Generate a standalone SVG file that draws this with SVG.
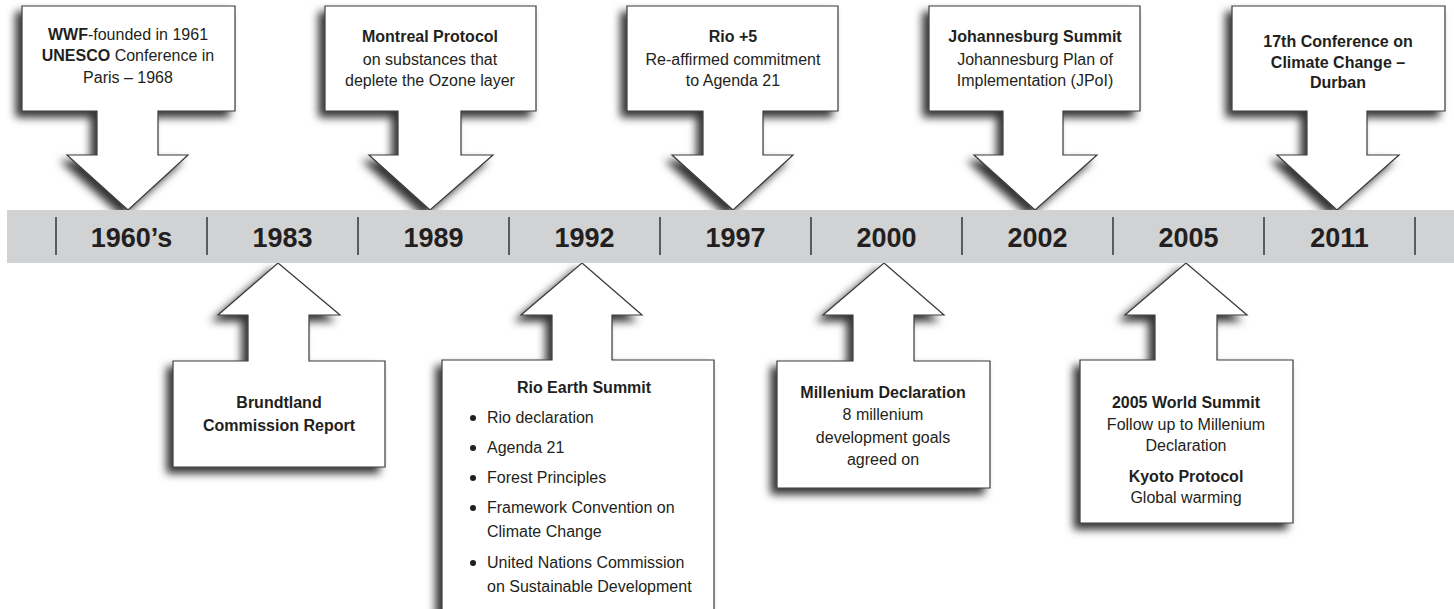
<svg xmlns="http://www.w3.org/2000/svg" width="1454" height="609" viewBox="0 0 1454 609">
<defs>
<filter id="sh" x="-20%" y="-20%" width="140%" height="140%">
<feDropShadow dx="-6" dy="6" stdDeviation="4.5" flood-color="#000" flood-opacity="0.8"/>
</filter>
</defs>
<style>
.c{fill:#fff;stroke:#3a3a3a;stroke-width:1.2;filter:url(#sh)}
text{font-family:"Liberation Sans",Arial,sans-serif;fill:#231f20;font-size:16px}
.m{text-anchor:middle}
.b{font-weight:bold}
.yr{font-weight:bold;font-size:27px;text-anchor:middle}
.dv{stroke:#333;stroke-width:1.5}
</style>
<rect width="1454" height="609" fill="#fff"/>

<g id="n1960">
<path class="c" d="M22,6H235V111H158V155H188L128,210L67,155H97V111H22Z"/>
<text class="m" x="128" y="40"><tspan class="b">WWF</tspan>-founded in 1961</text>
<text class="m" x="128" y="61"><tspan class="b">UNESCO</tspan> Conference in</text>
<text class="m" x="128" y="83">Paris – 1968</text>
</g>

<g id="n1989">
<path class="c" d="M325,6H536V111H461V155H493L430,210L369,155H398V111H325Z"/>
<text class="m b" x="430" y="42">Montreal Protocol</text>
<text class="m" x="430" y="65">on substances that</text>
<text class="m" x="430" y="86">deplete the Ozone layer</text>
</g>

<g id="n1997">
<path class="c" d="M627,6H838V111H763V155H793L733,210L672,155H703V111H627Z"/>
<text class="m b" x="733" y="42">Rio +5</text>
<text class="m" x="733" y="65">Re-affirmed commitment</text>
<text class="m" x="733" y="86">to Agenda 21</text>
</g>

<g id="n2002">
<path class="c" d="M929,6H1140V111H1063V155H1097L1035,210L974,155H1003V111H929Z"/>
<text class="m b" x="1035" y="42">Johannesburg Summit</text>
<text class="m" x="1035" y="65">Johannesburg Plan of</text>
<text class="m" x="1035" y="86">Implementation (JPoI)</text>
</g>

<g id="n2011">
<path class="c" d="M1232,6H1445V111H1367V155H1399L1337,210L1277,155H1307V111H1232Z"/>
<text class="m b" x="1338" y="47">17th Conference on</text>
<text class="m b" x="1338" y="68">Climate Change –</text>
<text class="m b" x="1338" y="88">Durban</text>
</g>

<g id="n1983">
<path class="c" d="M278,263L340,315H309V361H385V467H173V361H248V315H218Z"/>
<text class="m b" x="279" y="408">Brundtland</text>
<text class="m b" x="279" y="431">Commission Report</text>
</g>

<g id="n1992">
<path class="c" d="M582,263L642,315H612V360H714V625H442V360H552V315H521Z"/>
<text class="m b" x="584" y="393">Rio Earth Summit</text>
<g fill="#231f20">
<circle cx="473" cy="418" r="3"/>
<circle cx="473" cy="448" r="3"/>
<circle cx="473" cy="478" r="3"/>
<circle cx="473" cy="508" r="3"/>
<circle cx="473" cy="563" r="3"/>
</g>
<text x="487" y="423">Rio declaration</text>
<text x="487" y="453">Agenda 21</text>
<text x="487" y="483">Forest Principles</text>
<text x="487" y="513">Framework Convention on</text>
<text x="487" y="537">Climate Change</text>
<text x="487" y="568">United Nations Commission</text>
<text x="487" y="592">on Sustainable Development</text>
</g>

<g id="n2000">
<path class="c" d="M884,263L944,315H914V361H990V488H777V361H853V315H823Z"/>
<text class="m b" x="883" y="398">Millenium Declaration</text>
<text class="m" x="883" y="420">8 millenium</text>
<text class="m" x="883" y="443">development goals</text>
<text class="m" x="883" y="465">agreed on</text>
</g>

<g id="n2005">
<path class="c" d="M1186,263L1247,315H1217V360H1293V523H1080V360H1155V315H1125Z"/>
<text class="m b" x="1186" y="408">2005 World Summit</text>
<text class="m" x="1186" y="430">Follow up to Millenium</text>
<text class="m" x="1186" y="451">Declaration</text>
<text class="m b" x="1186" y="482">Kyoto Protocol</text>
<text class="m" x="1186" y="503">Global warming</text>
</g>

<g id="connectors">
<rect x="7" y="210" width="1447" height="53" fill="#d1d2d4"/>
<g class="dv">
<line x1="56" y1="217" x2="56" y2="255"/>
<line x1="207" y1="217" x2="207" y2="255"/>
<line x1="358" y1="217" x2="358" y2="255"/>
<line x1="509" y1="217" x2="509" y2="255"/>
<line x1="660" y1="217" x2="660" y2="255"/>
<line x1="811" y1="217" x2="811" y2="255"/>
<line x1="962" y1="217" x2="962" y2="255"/>
<line x1="1113" y1="217" x2="1113" y2="255"/>
<line x1="1264" y1="217" x2="1264" y2="255"/>
<line x1="1415" y1="217" x2="1415" y2="255"/>
</g>
<text class="yr" x="131.5" y="247">1960’s</text>
<text class="yr" x="282.5" y="247">1983</text>
<text class="yr" x="433.5" y="247">1989</text>
<text class="yr" x="584.5" y="247">1992</text>
<text class="yr" x="735.5" y="247">1997</text>
<text class="yr" x="886.5" y="247">2000</text>
<text class="yr" x="1037.5" y="247">2002</text>
<text class="yr" x="1188.5" y="247">2005</text>
<text class="yr" x="1339.5" y="247">2011</text>
</g>
</svg>
